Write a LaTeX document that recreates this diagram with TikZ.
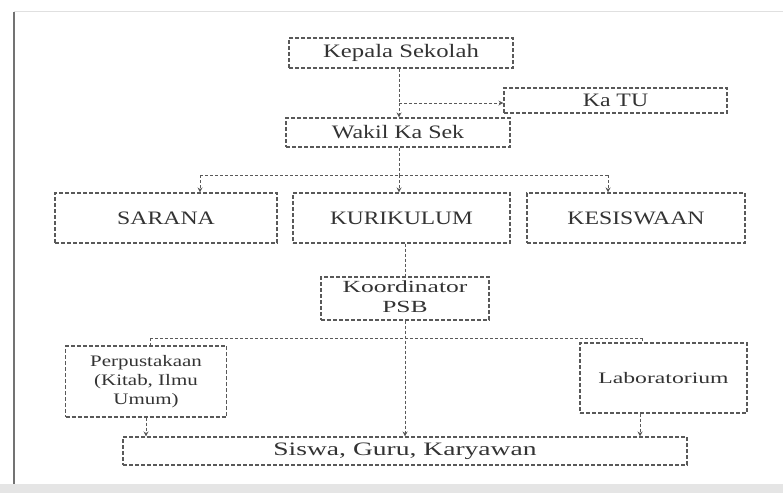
\documentclass[tikz,border=0pt]{standalone}
\usepackage{fontspec}
\setmainfont{Liberation Serif}
\usepackage{graphicx}
\usetikzlibrary{arrows.meta}
\newcommand{\hs}[2]{\scalebox{#1}[1]{#2}}
\begin{document}
\begin{tikzpicture}[x=1pt,y=-1pt,
  box/.style={draw=black!65, line width=1.1pt, dash pattern=on 4pt off 2pt, rectangle, inner sep=0pt, text=black!80, align=center},
  conn/.style={draw=black!65, line width=1pt, dash pattern=on 3pt off 2pt},
  arr/.style={conn, -{Stealth[length=5pt,width=5pt]}},
  big/.style={font=\fontsize{19}{22}\selectfont},
  mid/.style={font=\fontsize{16}{19}\selectfont}]
\useasboundingbox (0,0) rectangle (783,493);
% frame
\fill[black!10] (0,484) rectangle (783,493);
\draw[black!12, line width=1pt] (14,11) -- (783,11);
\draw[black!55, line width=2pt] (14,12) -- (14,484);
% nodes
\node[box, big, minimum width=224pt, minimum height=30pt] (kepala) at (401,53) {\hs{1.3}{Kepala Sekolah}};
\node[box, big, minimum width=223pt, minimum height=25pt] (katu) at (615.5,100.5) {\hs{1.25}{Ka TU}};
\node[box, big, minimum width=224pt, minimum height=29pt] (wakil) at (398,132.5) {\hs{1.26}{Wakil Ka Sek}};
\node[box, big, minimum width=222pt, minimum height=50pt] (sarana) at (166,218) {\hs{1.25}{SARANA}};
\node[box, big, minimum width=217pt, minimum height=50pt] (kurikulum) at (401.5,218) {\hs{1.23}{KURIKULUM}};
\node[box, big, minimum width=218pt, minimum height=50pt] (kesiswaan) at (636,218) {\hs{1.25}{KESISWAAN}};
\node[box, font=\fontsize{17}{20}\selectfont, minimum width=168pt, minimum height=43pt] (psb) at (405,298.5) {\hs{1.5}{\begin{tabular}{@{}c@{}}Koordinator\\PSB\end{tabular}}};
\node[box, mid, minimum width=161pt, minimum height=71pt] (perpus) at (146,381.5) {\hs{1.31}{\begin{tabular}{@{}c@{}}Perpustakaan\\(Kitab, Ilmu\\Umum)\end{tabular}}};
\node[box, mid, minimum width=167pt, minimum height=70pt] (lab) at (663.5,378) {\hs{1.48}{Laboratorium}};
\node[box, big, minimum width=564pt, minimum height=28pt] (siswa) at (405,451) {\hs{1.45}{Siswa, Guru, Karyawan}};
% junctions
\coordinate (j1) at (399,103);
\coordinate (hL) at (200,175);
\coordinate (hM) at (399,175);
\coordinate (hR) at (608,175);
\coordinate (bL) at (150,338);
\coordinate (bR) at (642,338);
\coordinate (la) at (640,415);
% connectors
\draw[conn] (kepala.south -| j1) -- (j1);
\draw[arr] (j1) -- (wakil.north -| j1);
\draw[arr] (j1) -- (katu.west |- j1);
\draw[conn] (wakil.south -| hM) -- (hM);
\draw[conn] (hL) -- (hR);
\draw[arr] (hL) -- (hL |- sarana.north);
\draw[arr] (hM) -- (hM |- kurikulum.north);
\draw[arr] (hR) -- (hR |- kesiswaan.north);
\draw[conn] (kurikulum.south -| psb.north) -- (psb.north);
\draw[arr] (psb.south) -- (siswa.north -| psb.south);
\draw[conn] (bL) -- (bR);
\draw[conn] (bL) -- (bL |- perpus.north);
\draw[conn] (bR) -- (bR |- lab.north);
\draw[arr] (perpus.south) -- (siswa.north -| perpus.south);
\draw[arr] (la |- lab.south) -- (la |- siswa.north);
\end{tikzpicture}
\end{document}
